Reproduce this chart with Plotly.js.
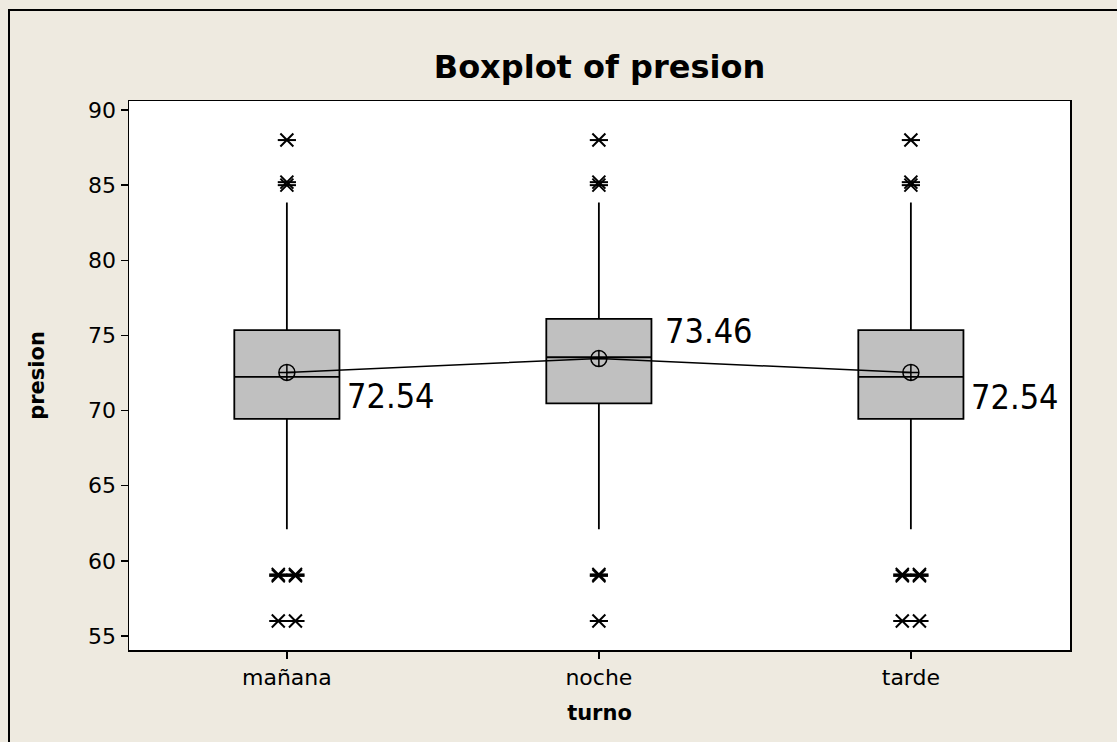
<!DOCTYPE html>
<html>
<head>
<meta charset="utf-8">
<script src="https://cdn.plot.ly/plotly-3.0.1.min.js"></script>
<style>
  html, body { margin: 0; padding: 0; background: #EEEAE0; overflow: hidden; }
  #wrap { position: relative; width: 1117px; height: 742px; overflow: hidden; }
  #chart { width: 1117px; height: 742px; }
  #frameTop { position: absolute; left: 8px; top: 9px; width: 1109px; height: 0;
              border-top: 2px solid #000; pointer-events: none; }
  #frameLeft { position: absolute; left: 8px; top: 9px; width: 0; height: 800px;
               border-left: 2px solid #000; pointer-events: none; }
</style>
</head>
<body>
<div id="wrap">
<div id="chart"></div>
<div id="frameTop"></div>
<div id="frameLeft"></div>
</div>
<script>
// ---- data ----
const categories = ["mañana", "noche", "tarde"];
const q1 = [69.45, 70.48, 69.45];
const medians = [72.25, 73.55, 72.25];
const q3 = [75.35, 76.1, 75.35];
const lowerWhisker = [62.1, 62.1, 62.1];
const upperWhisker = [83.85, 83.85, 83.85];
const means = [72.54, 73.46, 72.54];
const meanLabels = ["72.54", "73.46", "72.54"];
const outliersManana = [88, 85.0, 85.2, 59.0, 59.0, 59.1, 59.1, 56, 56];
const outliersNoche = [88, 85.0, 85.2, 59.0, 59.1, 56];
const outliersTarde = [88, 85.0, 85.2, 59.0, 59.0, 59.1, 59.1, 56, 56];
const yTicks = [55, 60, 65, 70, 75, 80, 85, 90];

const FONT = "'DejaVu Sans', sans-serif";
const FONT_LABEL = "'DejaVu Sans Condensed', 'DejaVu Sans', sans-serif";
const idx = categories.map((c, i) => i);

// boxes
const boxTrace = {
  type: "box",
  x: idx,
  q1: q1, median: medians, q3: q3,
  lowerfence: lowerWhisker, upperfence: upperWhisker,
  width: 0.337,
  whiskerwidth: 0,
  fillcolor: "#C0C0C0",
  line: { color: "#000000", width: 1.8 },
  boxpoints: false,
  hoverinfo: "skip",
  showlegend: false
};

// outliers: identical values are drawn side by side
const outLists = [outliersManana, outliersNoche, outliersTarde];
const ox = [], oy = [];
outLists.forEach((list, ci) => {
  const counts = {};
  list.forEach(v => { counts[v] = (counts[v] || 0) + 1; });
  const seen = {};
  list.forEach(v => {
    const n = counts[v];
    const k = seen[v] || 0;
    seen[v] = k + 1;
    const off = n > 1 ? (k - (n - 1) / 2) * 0.055 : 0;
    ox.push(ci + off);
    oy.push(v);
  });
});
const starX = {
  type: "scatter", mode: "markers", x: ox, y: oy,
  marker: { symbol: "x-thin-open", size: 13, line: { color: "#000", width: 2 }, color: "#000" },
  hoverinfo: "y", showlegend: false
};
const starH = {
  type: "scatter", mode: "markers", x: ox, y: oy,
  marker: { symbol: "line-ew-open", size: 13, line: { color: "#000", width: 2 }, color: "#000" },
  hoverinfo: "skip", showlegend: false
};

// mean connect line
const meanTrace = {
  type: "scatter", mode: "lines+markers", x: idx, y: means,
  line: { color: "#000", width: 1.5 },
  marker: { symbol: "circle-cross-open", size: 16, color: "#000", line: { color: "#000", width: 1.5 } },
  hoverinfo: "y", showlegend: false
};

const labelShiftY = [-24, 28, -25];
const labelShiftX = [58, 64, 58];
const annotations = idx.map(i => ({
  x: i, y: means[i], xref: "x", yref: "y",
  text: meanLabels[i], showarrow: false,
  xanchor: "left", yanchor: "middle",
  xshift: labelShiftX[i], yshift: labelShiftY[i],
  font: { family: FONT_LABEL, size: 34, color: "#000" }
}));

const layout = {
  width: 1117, height: 742,
  paper_bgcolor: "#EEEAE0",
  plot_bgcolor: "#FFFFFF",
  margin: { l: 129, r: 47, t: 101, b: 92 },
  title: {
    text: "<b>Boxplot of presion</b>",
    font: { family: FONT, size: 32, color: "#000" },
    x: 0.5, xanchor: "center", y: 0.9097, yanchor: "middle", xref: "paper"
  },
  xaxis: {
    range: [-0.506, 2.51],
    tickvals: idx, ticktext: categories,
    ticks: "outside", ticklen: 7, tickwidth: 1.5, tickcolor: "#000",
    showline: true, linecolor: "#000", linewidth: 1.5, mirror: true,
    showgrid: false, zeroline: false,
    tickfont: { family: FONT, size: 22, color: "#000" },
    title: { text: "<b>turno</b>", font: { family: FONT, size: 21, color: "#000" }, standoff: 16 }
  },
  yaxis: {
    range: [54.07, 90.6],
    tickvals: yTicks,
    ticks: "outside", ticklen: 7, tickwidth: 1.5, tickcolor: "#000",
    showline: true, linecolor: "#000", linewidth: 1.5, mirror: true,
    showgrid: false, zeroline: false,
    tickfont: { family: FONT, size: 22, color: "#000" },
    title: { text: "<b>presion</b>", font: { family: FONT, size: 21, color: "#000" }, standoff: 37 }
  },
  annotations: annotations
};

Plotly.newPlot("chart", [boxTrace, meanTrace, starX, starH], layout, { displayModeBar: false, staticPlot: true });
</script>
</body>
</html>
